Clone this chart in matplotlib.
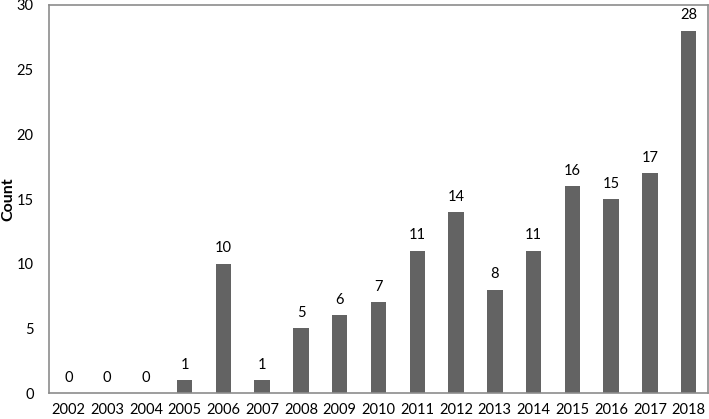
import matplotlib.pyplot as plt

# data
years = [str(y) for y in range(2002, 2019)]
counts = [0, 0, 0, 1, 10, 1, 5, 6, 7, 11, 14, 8, 11, 16, 15, 17, 28]

plt.rcParams['font.family'] = ['Lato', 'DejaVu Sans']

fig = plt.figure(figsize=(7.09, 4.19), dpi=100)
ax = fig.add_axes([49 / 709, 26 / 419, 659 / 709, 388 / 419])

x = list(range(len(years)))
ax.bar(x, counts, width=0.4, color='#636363')

# value labels above bars
for xi, c in zip(x, counts):
    ax.text(xi, c + 0.65, str(c), ha='center', va='bottom', fontsize=10.5)

ax.set_xlim(-0.5, len(years) - 0.5)
ax.set_ylim(0, 30)
ax.set_yticks(range(0, 31, 5))
ax.set_xticks(x)
ax.set_xticklabels(years)
ax.tick_params(length=0, labelsize=10.5, colors='black')
ax.tick_params(axis='x', pad=7.5)
ax.tick_params(axis='y', pad=11)
ax.set_ylabel('Count', fontsize=11.5, fontweight='bold', labelpad=1)

for s in ax.spines.values():
    s.set_color('#8c8c8c')
    s.set_linewidth(1.2)

fig.savefig('out.png', dpi=100)
